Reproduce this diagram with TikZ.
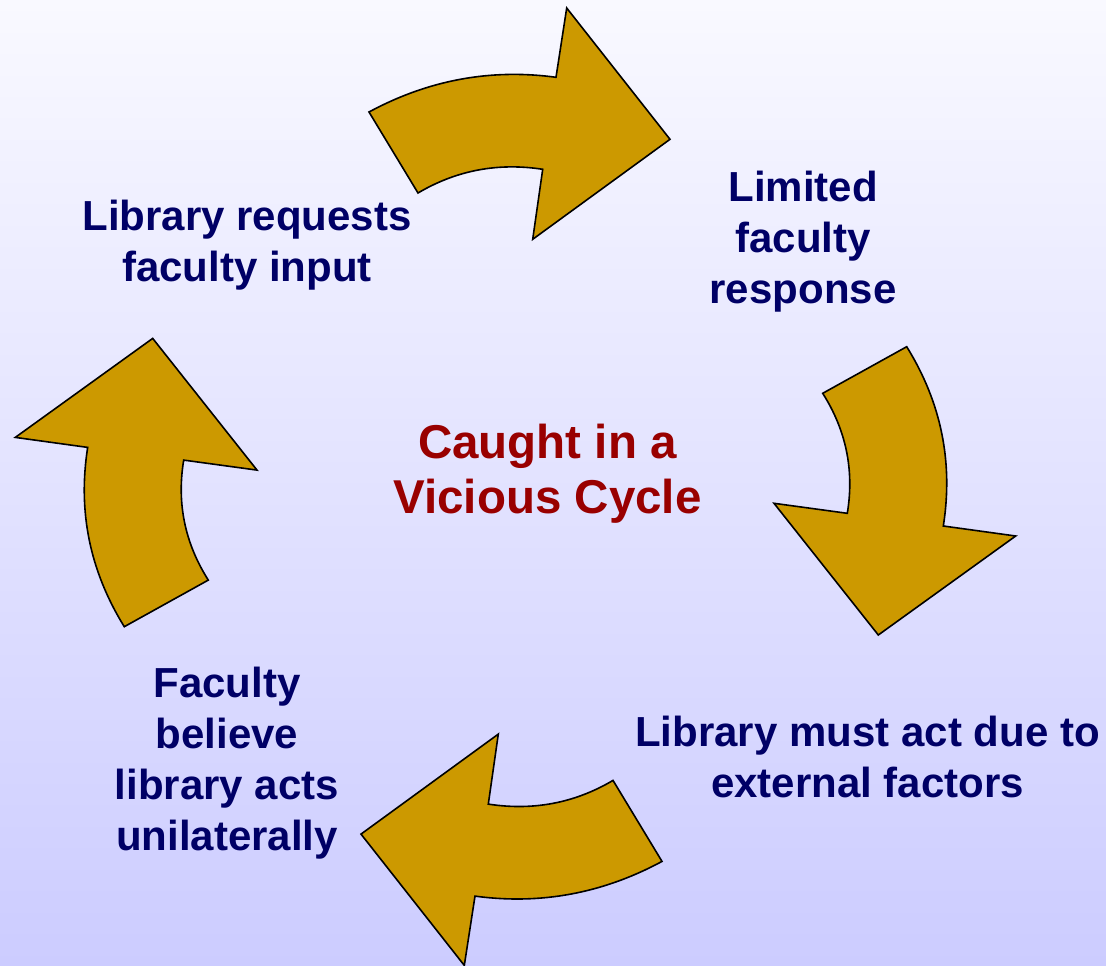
\documentclass[tikz,border=0pt]{standalone}
\usepackage{fontspec}
\setmainfont{Liberation Sans}
\begin{document}
\begin{tikzpicture}[x=1pt,y=-1pt,
  blockarrow/.style={fill=arrowgold,draw=black,line width=1.6pt,line join=miter},
  steptext/.style={text=navytext,font=\bfseries\fontsize{42}{51}\selectfont,align=center,anchor=base,inner sep=0pt},
  centertext/.style={text=redtext,font=\bfseries\fontsize{47.5}{55}\selectfont,align=center,anchor=base,inner sep=0pt}]
\definecolor{arrowgold}{RGB}{204,153,0}
\definecolor{navytext}{RGB}{0,0,102}
\definecolor{redtext}{RGB}{153,0,0}
\definecolor{bgtop}{RGB}{249,249,255}
\definecolor{bgbottom}{RGB}{204,204,255}
\useasboundingbox (0,0) rectangle (1106,966);
\shade[top color=bgtop,bottom color=bgbottom] (0,0) rectangle (1106,966);
% arrow top (to the right)
\draw[blockarrow] (369,112) .. controls (428.3,80) and (490.7,68.4) .. (556,77.3) -- (566.7,8) -- (670,139.3)
  -- (532.7,239.3) -- (542.7,169.3) .. controls (498,162.4) and (456.4,170.3) .. (418,193) -- cycle;
% arrow right (downwards)
\draw[blockarrow] (906.7,346.7) -- (822.7,393.3) .. controls (846.2,430.4) and (854.4,470.4) .. (847.3,513.3)
  -- (774,503.3) -- (878.3,635) -- (1015.7,536) -- (943.3,526) .. controls (953.4,462.1) and (941.2,402.4) .. cycle;
% arrow bottom (to the left)
\begin{scope}[rotate around={180:(515.5,486.7)}]
\draw[blockarrow] (369,112) .. controls (428.3,80) and (490.7,68.4) .. (556,77.3) -- (566.7,8) -- (670,139.3)
  -- (532.7,239.3) -- (542.7,169.3) .. controls (498,162.4) and (456.4,170.3) .. (418,193) -- cycle;
\end{scope}
% arrow left (upwards)
\begin{scope}[rotate around={180:(515.5,486.7)}]
\draw[blockarrow] (906.7,346.7) -- (822.7,393.3) .. controls (846.2,430.4) and (854.4,470.4) .. (847.3,513.3)
  -- (774,503.3) -- (878.3,635) -- (1015.7,536) -- (943.3,526) .. controls (953.4,462.1) and (941.2,402.4) .. cycle;
\end{scope}
\node[steptext] (request) at (247,281) {Library requests\\faculty input};
\node[steptext] (limited) at (803,303.5) {Limited\\faculty\\response};
\node[steptext] (external) at (867.5,797) {Library must act due to\\external factors};
\node[steptext] (believe) at (227,850) {Faculty\\believe\\library acts\\unilaterally};
\node[centertext] (cycle) at (547.5,513.3) {Caught in a\\Vicious Cycle};
\end{tikzpicture}
\end{document}
